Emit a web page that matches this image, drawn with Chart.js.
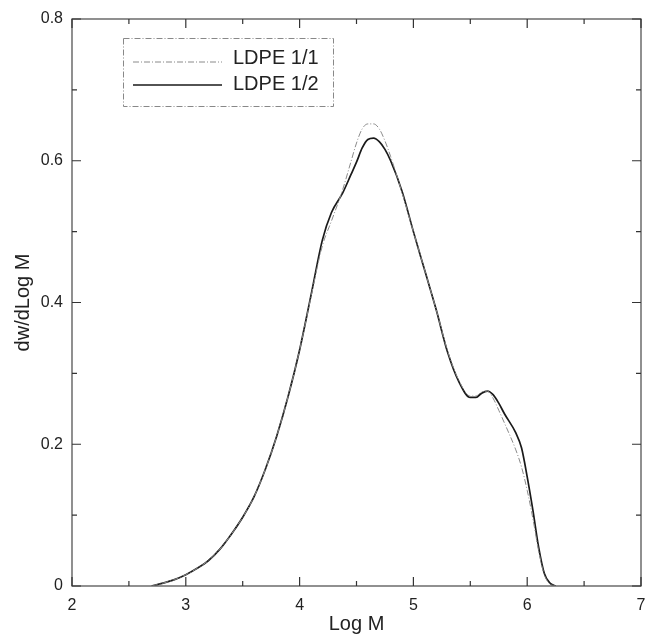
<!DOCTYPE html>
<html>
<head>
<meta charset="utf-8">
<script src="https://cdn.jsdelivr.net/npm/chart.js@4.4.1/dist/chart.umd.min.js"></script>
<style>
  html, body { margin: 0; padding: 0; background: #fff; }
  #wrap { width: 646px; height: 637px; }
</style>
</head>
<body>
<div id="wrap"><canvas id="gpc" width="646" height="637"></canvas></div>
<script>
// LDPE 1/1 (dash-dot, grey)
const logM11 = [2.70, 2.80, 2.90, 3.00, 3.10, 3.20, 3.30, 3.40, 3.50, 3.60, 3.70, 3.80, 3.90, 4.00, 4.10, 4.20, 4.28, 4.38, 4.45, 4.50, 4.55, 4.60, 4.65, 4.70, 4.75, 4.80, 4.90, 5.00, 5.10, 5.20, 5.30, 5.40, 5.50, 5.55, 5.60, 5.65, 5.70, 5.75, 5.80, 5.90, 5.95, 6.00, 6.05, 6.10, 6.15, 6.20, 6.25];
const dw11   = [0, 0.004, 0.009, 0.016, 0.025, 0.036, 0.052, 0.073, 0.097, 0.126, 0.165, 0.212, 0.268, 0.333, 0.408, 0.480, 0.515, 0.560, 0.598, 0.625, 0.645, 0.652, 0.652, 0.645, 0.628, 0.606, 0.555, 0.500, 0.445, 0.390, 0.332, 0.290, 0.268, 0.268, 0.274, 0.275, 0.265, 0.248, 0.230, 0.192, 0.168, 0.135, 0.095, 0.050, 0.016, 0.003, 0];

// LDPE 1/2 (solid, black)
const logM12 = [2.70, 2.80, 2.90, 3.00, 3.10, 3.20, 3.30, 3.40, 3.50, 3.60, 3.70, 3.80, 3.90, 4.00, 4.10, 4.20, 4.28, 4.38, 4.45, 4.50, 4.55, 4.60, 4.65, 4.70, 4.75, 4.80, 4.90, 5.00, 5.10, 5.20, 5.30, 5.40, 5.50, 5.55, 5.60, 5.65, 5.70, 5.75, 5.80, 5.90, 5.95, 6.00, 6.05, 6.10, 6.15, 6.20, 6.25];
const dw12   = [0, 0.004, 0.009, 0.016, 0.025, 0.036, 0.052, 0.073, 0.097, 0.126, 0.165, 0.212, 0.268, 0.333, 0.410, 0.488, 0.527, 0.555, 0.580, 0.598, 0.618, 0.630, 0.632, 0.627, 0.616, 0.600, 0.557, 0.500, 0.445, 0.390, 0.330, 0.288, 0.266, 0.266, 0.272, 0.275, 0.270, 0.258, 0.243, 0.216, 0.195, 0.154, 0.107, 0.055, 0.018, 0.004, 0];

const seriesNames = ['LDPE 1/1', 'LDPE 1/2'];
const xTicks = [2, 3, 4, 5, 6, 7];
const yTicks = [0, 0.2, 0.4, 0.6, 0.8];

const toPoints = (xs, ys) => xs.map((x, i) => ({ x: x, y: ys[i] }));

const textColor = '#222';
const fontFam = '"Liberation Sans", Arial, Helvetica, sans-serif';

// ticks pointing inward on all four sides + box + legend
const framePlugin = {
  id: 'frame',
  afterDatasetsDraw(chart) {
    const ctx = chart.ctx;
    const a = chart.chartArea;
    const xs = chart.scales.x, ys = chart.scales.y;
    ctx.save();
    ctx.strokeStyle = '#555';
    ctx.lineWidth = 1.3;
    ctx.strokeRect(a.left, a.top, a.right - a.left, a.bottom - a.top);

    ctx.strokeStyle = '#333';
    ctx.lineWidth = 1.2;
    // x ticks: major at integers, minor at halves
    for (let v = 2; v <= 7.001; v += 0.5) {
      const px = xs.getPixelForValue(v);
      const len = Math.abs(v - Math.round(v)) < 0.01 ? 9 : 5;
      ctx.beginPath();
      ctx.moveTo(px, a.bottom); ctx.lineTo(px, a.bottom - len);
      ctx.moveTo(px, a.top); ctx.lineTo(px, a.top + len);
      ctx.stroke();
    }
    // y ticks: major every 0.2, minor every 0.1
    for (let k = 0; k <= 8; k++) {
      const py = ys.getPixelForValue(k / 10);
      const len = k % 2 === 0 ? 9 : 5;
      ctx.beginPath();
      ctx.moveTo(a.left, py); ctx.lineTo(a.left + len, py);
      ctx.moveTo(a.right, py); ctx.lineTo(a.right - len, py);
      ctx.stroke();
    }

    // legend box
    const bx = 123, by = 38, bw = 210, bh = 68;
    ctx.strokeStyle = '#888';
    ctx.lineWidth = 1;
    ctx.setLineDash([6, 2, 1, 2]);
    ctx.strokeRect(bx + 0.5, by + 0.5, bw, bh);

    const ds = chart.data.datasets;
    const rows = [62, 85];
    ctx.font = '20px ' + fontFam;
    ctx.fillStyle = textColor;
    ctx.textBaseline = 'middle';
    ds.forEach((d, i) => {
      ctx.strokeStyle = d.borderColor;
      ctx.lineWidth = d.borderWidth;
      ctx.setLineDash(d.borderDash || []);
      ctx.beginPath();
      ctx.moveTo(133, rows[i]); ctx.lineTo(222, rows[i]);
      ctx.stroke();
      ctx.fillText(d.label, 233, rows[i] - (i === 0 ? 4 : 1));
    });
    ctx.restore();
  }
};

new Chart(document.getElementById('gpc'), {
  type: 'scatter',
  data: {
    datasets: [
      {
        label: seriesNames[0],
        data: toPoints(logM11, dw11),
        showLine: true,
        borderColor: '#8a8a8a',
        borderWidth: 1,
        borderDash: [6, 2, 1, 2],
        pointRadius: 0,
        cubicInterpolationMode: 'monotone'
      },
      {
        label: seriesNames[1],
        data: toPoints(logM12, dw12),
        showLine: true,
        borderColor: '#1a1a1a',
        borderWidth: 1.7,
        pointRadius: 0,
        cubicInterpolationMode: 'monotone'
      }
    ]
  },
  options: {
    responsive: false,
    animation: false,
    layout: { padding: { left: 0, right: 5, top: 19, bottom: 0 } },
    plugins: {
      legend: { display: false },
      tooltip: { enabled: false }
    },
    scales: {
      x: {
        type: 'linear',
        min: 2, max: 7,
        afterBuildTicks: s => { s.ticks = xTicks.map(v => ({ value: v })); },
        afterFit: s => { s.height = 51; s.paddingLeft = 0; s.paddingRight = 0; },
        grid: { display: false, drawTicks: false },
        border: { display: false },
        ticks: { color: textColor, padding: 10, font: { size: 16, family: fontFam } },
        title: { display: true, text: 'Log M', color: textColor, padding: { top: 0, bottom: 1 }, font: { size: 20, family: fontFam } }
      },
      y: {
        type: 'linear',
        min: 0, max: 0.8,
        afterBuildTicks: s => { s.ticks = yTicks.map(v => ({ value: v })); },
        afterFit: s => { s.width = 72; s.paddingTop = 0; s.paddingBottom = 0; },
        grid: { display: false, drawTicks: false },
        border: { display: false },
        ticks: { color: textColor, padding: 9, font: { size: 16, family: fontFam } },
        title: { display: true, text: 'dw/dLog M', color: textColor, padding: { top: 11, bottom: 0 }, font: { size: 20, family: fontFam } }
      }
    }
  },
  plugins: [framePlugin]
});
</script>
</body>
</html>
